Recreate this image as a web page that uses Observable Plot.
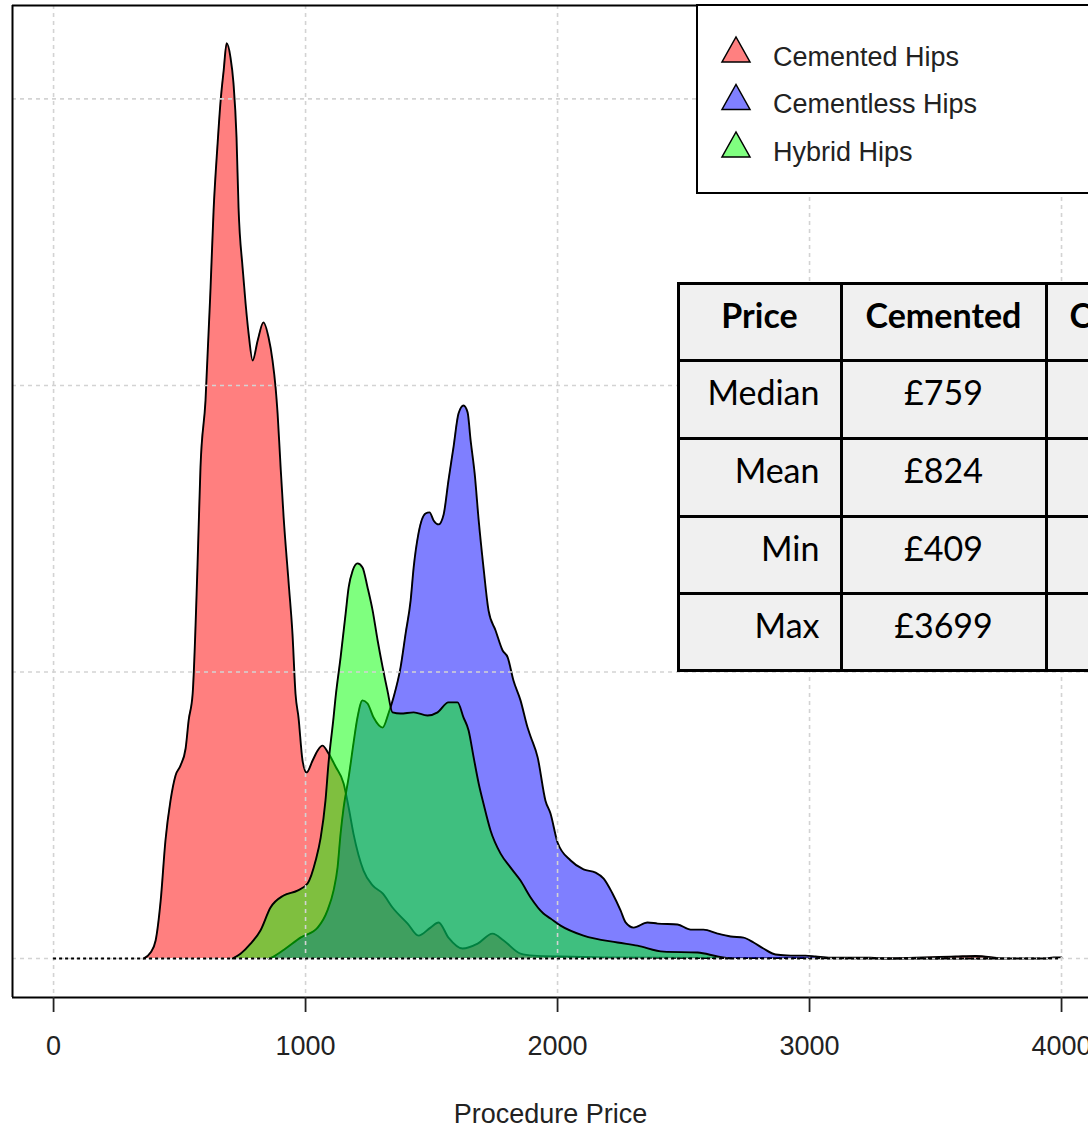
<!DOCTYPE html>
<html>
<head>
<meta charset="utf-8">
<script src="https://cdn.jsdelivr.net/npm/d3@7"></script>
<script src="https://cdn.jsdelivr.net/npm/@observablehq/plot@0.6"></script>
<style>
  html, body { margin: 0; padding: 0; background: #fff; }
  #wrap { position: relative; width: 1088px; height: 1127px; overflow: hidden; background: #fff; }
  #wrap > svg.plot { position: absolute; left: 0; top: 0; }
  .cell { position: absolute; box-sizing: border-box; border: 3px solid #000; background: #f0f0f0;
          font-family: Lato, "Open Sans", sans-serif; font-size: 34px; color: #000;
          display: flex; align-items: center; padding-bottom: 15px; white-space: nowrap; overflow: hidden; }
  .cell.head { font-weight: bold; justify-content: center; }
  .cell.head.clip { justify-content: flex-start; padding-left: 22px; }
  .cell.label { justify-content: flex-end; padding-right: 20px; }
  .cell.value { justify-content: center; }
</style>
</head>
<body>
<div id="wrap"></div>
<script>
// ---- Data (price in £, density in units of 1e-3) ----
const cemented = [
  [357,0],[385,0.021],[405,0.063],[425,0.202],[444,0.412],[464,0.551],[484,0.639],[504,0.674],
  [524,0.733],[536,0.831],[552,0.925],[571,1.365],[583,1.714],[603,1.948],[623,2.342],[635,2.611],
  [651,2.845],[663,2.995],[675,3.099],[687,3.194],[702,3.145],[714,3.054],[726,2.866],[734,2.621],
  [750,2.412],[762,2.286],[774,2.181],[790,2.087],[810,2.157],[833,2.220],[853,2.168],[869,2.087],
  [881,1.993],[889,1.902],[901,1.714],[913,1.539],[933,1.309],[948,1.134],[960,0.925],[972,0.841],
  [988,0.691],[1004,0.649],[1028,0.691],[1048,0.726],[1067,0.743],[1091,0.716],[1119,0.67],[1151,0.611],
  [1171,0.527],[1190,0.436],[1230,0.307],[1266,0.255],[1306,0.227],[1345,0.178],[1405,0.122],[1448,0.080],
  [1496,0.108],[1528,0.126],[1567,0.073],[1623,0.035],[1683,0.052],[1742,0.087],[1786,0.063],[1853,0.017],
  [1905,0.010],[2012,0.007],[2171,0.004],[2567,0.002],[2964,0.002],[3282,0],[3579,0.007],[3659,0.009],
  [3718,0.005],[3758,0]
];
const cementless = [
  [853,0],[873,0.007],[921,0.035],[980,0.073],[1048,0.108],[1087,0.168],[1111,0.237],[1127,0.318],
  [1139,0.436],[1151,0.527],[1171,0.632],[1190,0.750],[1206,0.841],[1226,0.901],[1246,0.890],[1270,0.841],
  [1306,0.806],[1329,0.855],[1349,0.911],[1377,1.016],[1397,1.134],[1417,1.250],[1429,1.365],[1448,1.483],
  [1476,1.553],[1492,1.557],[1508,1.529],[1528,1.515],[1548,1.550],[1567,1.668],[1587,1.784],[1607,1.902],
  [1627,1.930],[1643,1.906],[1655,1.808],[1671,1.693],[1687,1.529],[1706,1.365],[1726,1.215],[1754,1.145],
  [1782,1.075],[1802,1.051],[1825,0.970],[1853,0.901],[1881,0.806],[1893,0.775],[1921,0.702],[1952,0.551],
  [1972,0.506],[2000,0.405],[2052,0.342],[2103,0.311],[2151,0.300],[2183,0.279],[2218,0.227],[2250,0.168],
  [2270,0.126],[2302,0.108],[2357,0.126],[2397,0.122],[2476,0.119],[2528,0.101],[2579,0.101],[2635,0.087],
  [2687,0.077],[2738,0.073],[2778,0.056],[2817,0.035],[2865,0.014],[2925,0.010],[2984,0.010],[3024,0.007],
  [3083,0.003],[3242,0.003],[3302,0],[3937,0],[3968,0.004],[4000,0.004]
];
const hybrid = [
  [710,0],[742,0.017],[782,0.052],[821,0.098],[861,0.178],[913,0.220],[968,0.237],[1008,0.262],
  [1040,0.342],[1060,0.422],[1079,0.551],[1091,0.681],[1111,0.841],[1119,0.911],[1139,1.051],[1159,1.204],
  [1171,1.295],[1187,1.354],[1206,1.379],[1226,1.365],[1246,1.295],[1266,1.215],[1286,1.110],[1306,1.016],
  [1325,0.935],[1345,0.859],[1377,0.855],[1429,0.859],[1484,0.848],[1524,0.859],[1567,0.894],[1603,0.894],
  [1627,0.841],[1647,0.796],[1667,0.702],[1687,0.611],[1706,0.541],[1734,0.447],[1774,0.366],[1813,0.318],
  [1853,0.272],[1893,0.213],[1944,0.157],[1972,0.140],[2012,0.115],[2103,0.080],[2238,0.056],[2317,0.045],
  [2421,0.024],[2556,0.021],[2635,0.007],[2687,0]
];
const seriesNames = ["Cemented Hips", "Cementless Hips", "Hybrid Hips"];
const seriesFills = ["rgba(255,0,0,0.5)", "rgba(0,0,255,0.5)", "rgba(0,255,0,0.5)"];
const legendFills = ["#ff8080", "#8080ff", "#80ff80"];
const xTicks = [0, 1000, 2000, 3000, 4000];
const yGrid = [0, 1, 2, 3];
const xDomain = [-163, 4107];
const yDomain = [-0.136, 3.326];

const tableHeader = ["Price", "Cemented", "Cementless"];
const tableRowLabels = ["Median", "Mean", "Min", "Max"];
const cementedStats = ["£759", "£824", "£409", "£3699"];

// ---- Plot ----
const seriesData = [cemented, cementless, hybrid].map((pts, i) =>
  pts.map(([price, density]) => ({series: seriesNames[i], price, density})));

const marks = [];
seriesData.forEach((d, i) => {
  marks.push(Plot.areaY(d, {x: "price", y: "density", fill: seriesFills[i], curve: "monotone-x"}));
  marks.push(Plot.lineY(d, {x: "price", y: "density", stroke: "#000", strokeWidth: 1.9, curve: "monotone-x"}));
});

const plot = Plot.plot({
  width: 1088,
  height: 1127,
  marginLeft: 12,
  marginRight: 0,
  marginTop: 5,
  marginBottom: 130,
  style: {fontFamily: "'Liberation Sans', Arial, sans-serif", fontSize: "27px", background: "#fff", color: "#222"},
  x: {domain: xDomain, label: null},
  y: {domain: yDomain, label: null, axis: null},
  marks: [
    ...marks,
    Plot.ruleX(xTicks, {stroke: "#d3d3d3", strokeWidth: 1.6, strokeDasharray: "4,4"}),
    Plot.ruleY(yGrid, {stroke: "#d3d3d3", strokeWidth: 1.6, strokeDasharray: "4,4"}),
    Plot.ruleY([0], {x1: 0, x2: 4000, stroke: "#000", strokeWidth: 2, strokeDasharray: "3,3"}),
    Plot.ruleX([xDomain[0]], {stroke: "#000", strokeWidth: 2}),
    Plot.ruleY(yDomain, {stroke: "#000", strokeWidth: 2}),
    Plot.axisX(xTicks, {tickSize: 15, tickPadding: 23, stroke: "#222", strokeWidth: 1.8, fill: "#222",
                        label: null, tickFormat: d => String(d)}),
    Plot.text(["Procedure Price"], {frameAnchor: "bottom", dy: 125, fill: "#222"})
  ]
});
plot.classList.add("plot");
const wrap = document.getElementById("wrap");
wrap.appendChild(plot);

// ---- Legend ----
const leg = d3.select(wrap).append("svg")
  .attr("width", 1088).attr("height", 1127)
  .style("position", "absolute").style("left", "0px").style("top", "0px");
leg.append("rect").attr("x", 697).attr("y", 5).attr("width", 500).attr("height", 188)
  .attr("fill", "#fff").attr("stroke", "#000").attr("stroke-width", 2);
seriesNames.forEach((name, i) => {
  const base = 62 + i * 47.5;
  leg.append("polygon")
    .attr("points", `${722},${base} ${750},${base} ${736},${base - 25}`)
    .attr("fill", legendFills[i]).attr("stroke", "#000").attr("stroke-width", 1.5);
  leg.append("text").attr("x", 773).attr("y", base + 3.5)
    .attr("font-family", "'Liberation Sans', Arial, sans-serif").attr("font-size", 27)
    .attr("fill", "#222").text(name);
});

// ---- Table ----
const colEdges = [678, 841, 1046, 1251];
const rowEdges = [283, 360, 438, 516, 593, 670];
function cell(r, c, text, cls) {
  const div = document.createElement("div");
  div.className = "cell " + cls;
  div.style.left = (colEdges[c] - 1.5) + "px";
  div.style.top = (rowEdges[r] - 1.5) + "px";
  div.style.width = (colEdges[c + 1] - colEdges[c] + 3) + "px";
  div.style.height = (rowEdges[r + 1] - rowEdges[r] + 3) + "px";
  div.textContent = text;
  wrap.appendChild(div);
}
tableHeader.forEach((h, c) => cell(0, c, h, c === 2 ? "head clip" : "head"));
tableRowLabels.forEach((lab, r) => {
  cell(r + 1, 0, lab, "label");
  cell(r + 1, 1, cementedStats[r], "value");
  cell(r + 1, 2, "", "value");
});
</script>
</body>
</html>
